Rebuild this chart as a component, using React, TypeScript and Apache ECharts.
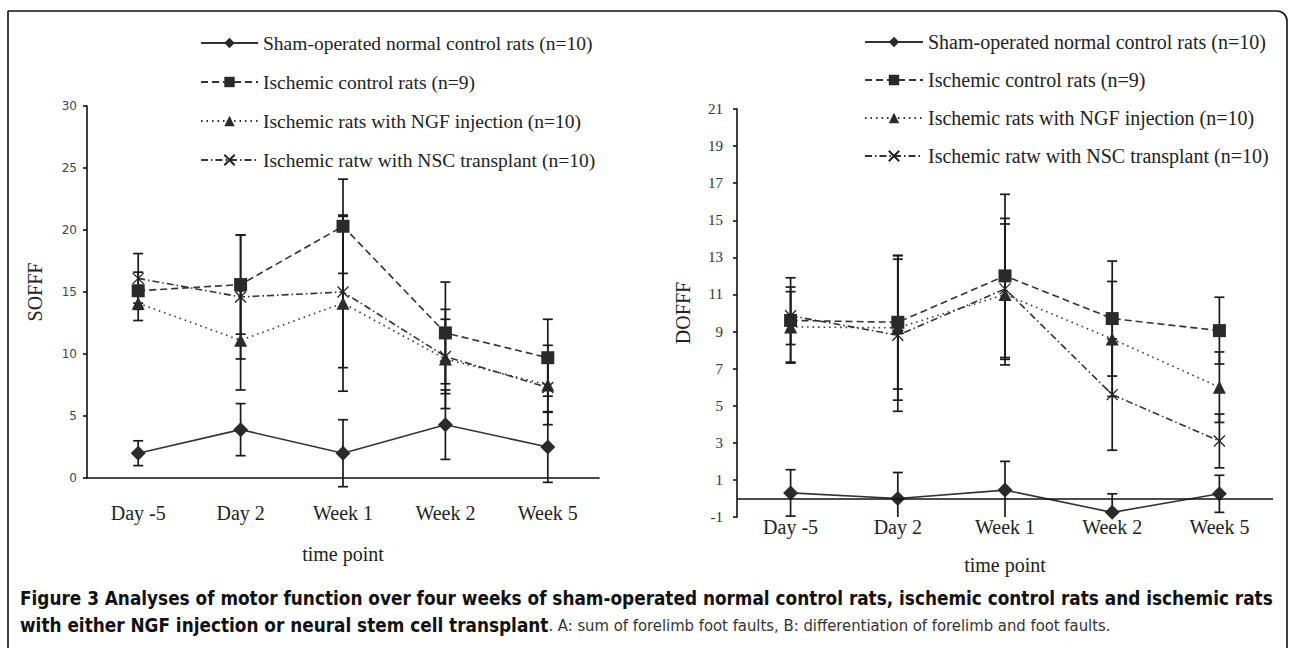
import React, { useEffect, useRef } from "react";
import * as echarts from "echarts";

const categories = ["Day -5", "Day 2", "Week 1", "Week 2", "Week 5"];
const seriesNames = [
  "Sham-operated normal control rats (n=10)",
  "Ischemic control rats (n=9)",
  "Ischemic rats with NGF injection (n=10)",
  "Ischemic ratw with NSC transplant (n=10)",
];

// Panel A: SOFFF (mean, SD)
const soffShamMean = [2.0, 3.9, 2.0, 4.3, 2.5];
const soffShamSd = [1.0, 2.1, 2.7, 2.8, 2.85];
const soffIschMean = [15.1, 15.6, 20.3, 11.7, 9.7];
const soffIschSd = [1.5, 4.0, 3.8, 4.1, 3.1];
const soffNgfMean = [14.1, 11.1, 14.1, 9.6, 7.5];
const soffNgfSd = [1.4, 4.0, 7.1, 4.0, 3.2];
const soffNscMean = [16.1, 14.6, 15.0, 9.8, 7.3];
const soffNscSd = [2.0, 5.0, 6.1, 3.0, 2.0];

// Panel B: DOFFF (mean, SD)
const doffShamMean = [0.3, 0.0, 0.45, -0.75, 0.25];
const doffShamSd = [1.25, 1.4, 1.55, 1.0, 1.0];
const doffIschMean = [9.6, 9.5, 12.0, 9.7, 9.05];
const doffIschSd = [2.3, 3.6, 4.4, 3.1, 1.8];
const doffNgfMean = [9.25, 9.2, 11.0, 8.6, 6.0];
const doffNgfSd = [1.9, 3.9, 3.8, 3.1, 1.9];
const doffNscMean = [9.85, 8.8, 11.3, 5.6, 3.1];
const doffNscSd = [1.55, 4.1, 3.8, 3.0, 1.45];

const soffTicks = [0, 30, 5];
const doffTicks = [-1, 21, 2];

const captionBold1 =
  "Figure 3 Analyses of motor function over four weeks of sham-operated normal control rats, ischemic control rats and ischemic rats";
const captionBold2 = "with either NGF injection or neural stem cell transplant";
const captionNormal =
  ". A: sum of forelimb foot faults, B: differentiation of forelimb and foot faults.";

const SERIF = "'Liberation Serif', 'Times New Roman', serif";
const CAPTION_FONT = "'Liberation Sans Narrow', 'DejaVu Sans Condensed', 'Noto Sans', sans-serif";

const markerStyles = [
  { symbol: "diamond", size: 15, dash: "solid" as any },
  { symbol: "rect", size: 13, dash: [7, 4] },
  { symbol: "triangle", size: 13, dash: [1.5, 4] },
  { symbol: "path://M0,0L10,10M10,0L0,10", size: 11, dash: [7, 3, 1.5, 3] },
];

function lineSeries(idx: number, gi: number, yIdx: number, mean: number[], withZero: boolean) {
  const st = markerStyles[idx];
  const isX = idx === 3;
  const s: any = {
    type: "line",
    name: seriesNames[idx],
    xAxisIndex: gi,
    yAxisIndex: yIdx,
    data: mean,
    symbol: st.symbol,
    symbolSize: st.size,
    showAllSymbol: true,
    lineStyle: { color: "#333", width: 1.6, type: st.dash },
    itemStyle: isX
      ? { color: "rgba(0,0,0,0)", borderColor: "#222", borderWidth: 1.3 }
      : { color: "#2a2a2a", borderColor: "#2a2a2a", borderWidth: 0 },
    z: 3,
    silent: true,
  };
  if (withZero) {
    s.markLine = {
      silent: true,
      symbol: "none",
      label: { show: false },
      lineStyle: { color: "#111", width: 1.6, type: "solid" },
      data: [{ yAxis: 0 }],
    };
  }
  return s;
}

function errorSeries(gi: number, yIdx: number, mean: number[], sd: number[], clip: boolean) {
  return {
    type: "custom",
    xAxisIndex: gi,
    yAxisIndex: yIdx,
    silent: true,
    z: 2,
    data: mean.map((m, i) => [i, m - sd[i], m + sd[i]]),
    renderItem: (params: any, api: any) => {
      const x = api.value(0);
      const lo = api.value(1);
      const hi = api.value(2);
      const cs = params.coordSys;
      const pTop = api.coord([x, hi]);
      const pBot = api.coord([x, lo]);
      const bottomEdge = cs.y + cs.height;
      const clipped = clip && pBot[1] > bottomEdge;
      const yb = clipped ? bottomEdge : pBot[1];
      const w = 5;
      const style = { stroke: "#1a1a1a", lineWidth: 1.7 };
      const children: any[] = [
        { type: "line", shape: { x1: pTop[0], y1: pTop[1], x2: pTop[0], y2: yb }, style },
        { type: "line", shape: { x1: pTop[0] - w, y1: pTop[1], x2: pTop[0] + w, y2: pTop[1] }, style },
      ];
      if (!clipped) {
        children.push({ type: "line", shape: { x1: pTop[0] - w, y1: yb, x2: pTop[0] + w, y2: yb }, style });
      }
      return { type: "group", children };
    },
  };
}

export default function App() {
  const ref = useRef<HTMLDivElement>(null);
  useEffect(() => {
    if (!ref.current) return;
    const chart = echarts.init(ref.current, undefined, { renderer: "svg" });
    const axisLineStyle = { color: "#111", width: 1.6 };

    const option: any = {
      animation: false,
      backgroundColor: "#fff",
      grid: [
        { left: 87, top: 106, width: 512, height: 372 },
        { left: 737, top: 109, width: 536, height: 408 },
      ],
      legend: [
        {
          orient: "vertical",
          left: 195,
          top: 28,
          itemWidth: 57,
          itemHeight: 13,
          itemGap: 19,
          selectedMode: false,
          data: seriesNames,
          textStyle: { fontFamily: SERIF, fontSize: 19.5, color: "#222", lineHeight: 20 },
        },
        {
          orient: "vertical",
          left: 859,
          top: 27,
          itemWidth: 58,
          itemHeight: 13,
          itemGap: 18,
          selectedMode: false,
          data: seriesNames,
          textStyle: { fontFamily: SERIF, fontSize: 20, color: "#222", lineHeight: 20 },
        },
      ],
      xAxis: [
        {
          type: "category",
          gridIndex: 0,
          data: categories,
          boundaryGap: true,
          axisLine: { lineStyle: axisLineStyle },
          axisTick: { show: false },
          axisLabel: { fontFamily: SERIF, fontSize: 20, color: "#222", margin: 25 },
          name: "time point",
          nameLocation: "middle",
          nameGap: 66,
          nameTextStyle: { fontFamily: SERIF, fontSize: 20, color: "#222" },
        },
        {
          type: "category",
          gridIndex: 1,
          data: categories,
          boundaryGap: true,
          axisLine: { show: false, onZero: false },
          axisTick: { show: false },
          axisLabel: { fontFamily: SERIF, fontSize: 20, color: "#222", margin: 0 },
          name: "time point",
          nameLocation: "middle",
          nameGap: 38,
          nameTextStyle: { fontFamily: SERIF, fontSize: 20, color: "#222" },
        },
      ],
      yAxis: [
        {
          type: "value",
          gridIndex: 0,
          min: soffTicks[0],
          max: soffTicks[1],
          interval: soffTicks[2],
          splitLine: { show: false },
          axisLine: { show: true, lineStyle: axisLineStyle },
          axisTick: { show: true, length: 4, lineStyle: axisLineStyle },
          axisLabel: { fontFamily: "'DejaVu Sans', sans-serif", fontSize: 12, color: "#444", margin: 10 },
          name: "SOFFF",
          nameLocation: "middle",
          nameGap: 42,
          nameRotate: 90,
          nameTextStyle: { fontFamily: SERIF, fontSize: 20, color: "#222" },
        },
        {
          // data axis for panel B (hidden)
          type: "value",
          gridIndex: 1,
          position: "left",
          min: doffTicks[0],
          max: doffTicks[1],
          show: false,
          splitLine: { show: false },
        },
        {
          // display axis for panel B: shifted by one so that ticks fall on odd values
          type: "value",
          gridIndex: 1,
          position: "left",
          offset: 0,
          min: 0,
          max: doffTicks[1] - doffTicks[0],
          interval: doffTicks[2],
          splitLine: { show: false },
          axisLine: { show: true, onZero: false, lineStyle: axisLineStyle },
          axisTick: { show: true, length: 4, lineStyle: axisLineStyle },
          axisLabel: {
            fontFamily: SERIF,
            fontSize: 15,
            color: "#333",
            margin: 14,
            formatter: (v: number) => String(v + doffTicks[0]),
          },
          name: "DOFFF",
          nameLocation: "middle",
          nameGap: 44,
          nameRotate: 90,
          nameTextStyle: { fontFamily: SERIF, fontSize: 20, color: "#222" },
        },
      ],
      graphic: [
        {
          type: "rect",
          shape: { x: 8, y: 11, width: 1279, height: 700, r: [0, 10, 0, 0] },
          style: { fill: "none", stroke: "#111", lineWidth: 1.6 },
          silent: true,
        },
        {
          type: "text",
          left: 20,
          top: 589,
          silent: true,
          style: {
            text: `{b|${captionBold1}}\n{b|${captionBold2}}{n|${captionNormal}}`,
            rich: {
              b: { fontFamily: CAPTION_FONT, fontWeight: "bold", fontSize: 18.8, fill: "#111", lineHeight: 27 },
              n: { fontFamily: CAPTION_FONT, fontWeight: "normal", fontSize: 16.5, fill: "#333", lineHeight: 27 },
            },
          },
        },
      ],
      series: [
        errorSeries(0, 0, soffShamMean, soffShamSd, false),
        errorSeries(0, 0, soffIschMean, soffIschSd, false),
        errorSeries(0, 0, soffNgfMean, soffNgfSd, false),
        errorSeries(0, 0, soffNscMean, soffNscSd, false),
        lineSeries(0, 0, 0, soffShamMean, false),
        lineSeries(1, 0, 0, soffIschMean, false),
        lineSeries(2, 0, 0, soffNgfMean, false),
        lineSeries(3, 0, 0, soffNscMean, false),
        errorSeries(1, 1, doffShamMean, doffShamSd, true),
        errorSeries(1, 1, doffIschMean, doffIschSd, true),
        errorSeries(1, 1, doffNgfMean, doffNgfSd, true),
        errorSeries(1, 1, doffNscMean, doffNscSd, true),
        lineSeries(0, 1, 1, doffShamMean, true),
        lineSeries(1, 1, 1, doffIschMean, false),
        lineSeries(2, 1, 1, doffNgfMean, false),
        lineSeries(3, 1, 1, doffNscMean, false),
      ],
    };
    chart.setOption(option);
    return () => chart.dispose();
  }, []);
  return (
    <div
      ref={ref}
      style={{ position: "absolute", left: 0, top: 0, width: 1290, height: 648, background: "#fff" }}
    />
  );
}
